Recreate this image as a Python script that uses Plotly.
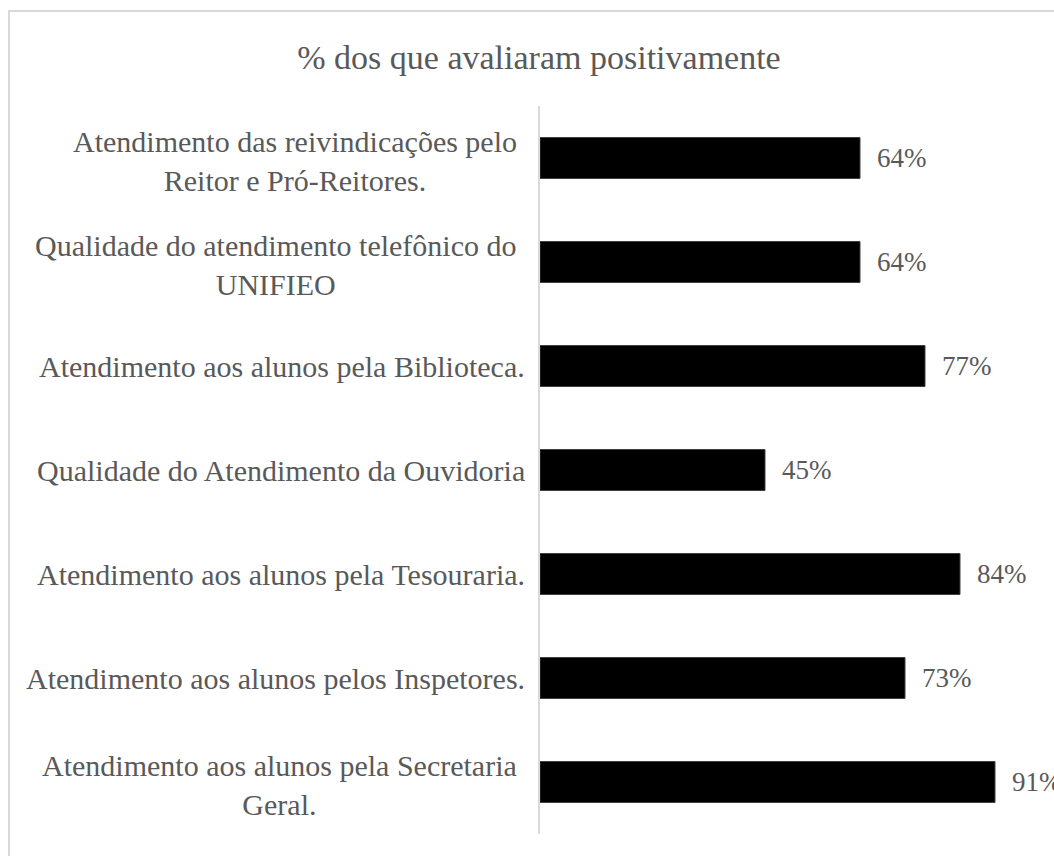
import plotly.graph_objects as go

# Data (bottom to top, as drawn)
categories = [
    "Atendimento aos alunos pela Secretaria\nGeral.",
    "Atendimento aos alunos pelos Inspetores.",
    "Atendimento aos alunos pela Tesouraria.",
    "Qualidade do Atendimento da Ouvidoria",
    "Atendimento aos alunos pela Biblioteca.",
    "Qualidade do atendimento telefônico do\nUNIFIEO",
    "Atendimento das reivindicações pelo\nReitor e Pró-Reitores.",
]
values = [91, 73, 84, 45, 77, 64, 64]
title_text = "% dos que avaliaram positivamente"

FONT = "Liberation Serif, Times New Roman, serif"
TXT = "#595959"

fig = go.Figure()
fig.add_trace(go.Bar(
    x=values,
    y=categories,
    orientation="h",
    marker=dict(color="#000000", line=dict(color="#404040", width=1)),
    hoverinfo="skip",
))

annotations = []
# value labels
for c, v in zip(categories, values):
    annotations.append(dict(
        x=v, y=c, xref="x", yref="y", text=f"{v}%", showarrow=False,
        xanchor="left", yanchor="middle", xshift=15,
        font=dict(family=FONT, size=27, color=TXT),
    ))

# category labels
for c in categories:
    lines = c.split("\n")
    multi = len(lines) > 1
    annotations.append(dict(
        x=0, y=c, xref="x", yref="y", text="<br>".join(lines),
        showarrow=False, align="center",
        xanchor="right", yanchor="middle",
        xshift=-21 if multi else -13,
        yshift=-3 if multi else 0,
        font=dict(family=FONT, size=30, color=TXT),
    ))

fig.update_layout(
    width=1054, height=856,
    margin=dict(l=540, r=14, t=106, b=22),
    paper_bgcolor="white", plot_bgcolor="white",
    showlegend=False,
    bargap=0.606,
    title=dict(
        text=title_text, x=539 / 1054, xref="container", xanchor="center",
        y=1 - 57 / 856, yref="container", yanchor="middle",
        font=dict(family=FONT, size=34, color=TXT),
    ),
    xaxis=dict(range=[0, 100], visible=False, fixedrange=True),
    yaxis=dict(
        type="category", showticklabels=False, showgrid=False,
        zeroline=False, ticks="", showline=True, linecolor="#d9d9d9",
        linewidth=2, fixedrange=True,
    ),
    annotations=annotations,
    shapes=[dict(
        type="rect", xref="paper", yref="paper",
        x0=(9 - 540) / 500, x1=1.2, y0=-0.2, y1=(834 - 11) / 728,
        line=dict(color="#d9d9d9", width=2), fillcolor="rgba(0,0,0,0)",
        layer="below",
    )],
)

fig.write_html(
    "out.html",
    config={"displayModeBar": False},
    post_script="document.body.style.margin='0';",
)
